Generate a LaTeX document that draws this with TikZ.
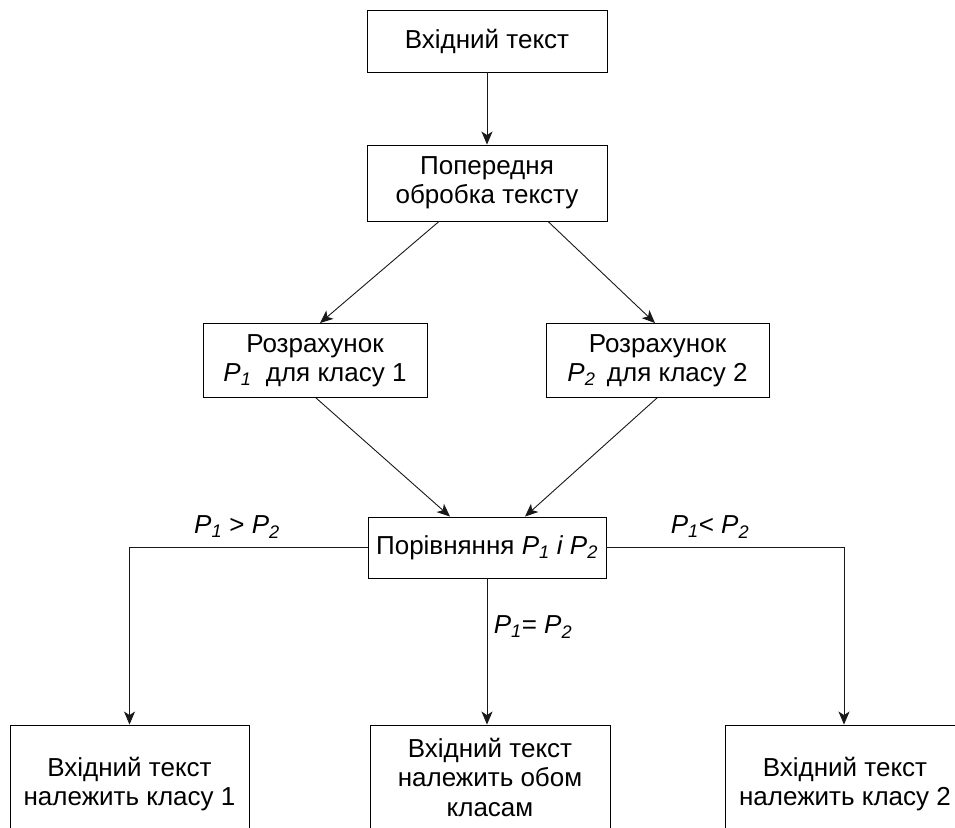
\documentclass[tikz,border=0pt]{standalone}
\usepackage{fontspec}
\setmainfont{Liberation Sans}
\usetikzlibrary{arrows.meta}
\newcommand\PP[1]{\textit{P}\textsubscript{\textit{#1}}}
\begin{document}
\begin{tikzpicture}[x=1pt,y=1pt,
  box/.style={draw=black, line width=0.9pt, align=center, inner sep=0pt,
    font=\fontsize{26}{29.5}\selectfont},
  lbl/.style={font=\fontsize{26}{29.5}\selectfont, inner sep=0pt},
  arr/.style={draw=black!90, line width=0.9pt, -{Stealth[length=13pt,width=11pt,inset=3.5pt]}}]
\useasboundingbox (0,0) rectangle (955,-827);
\clip (0,0) rectangle (955,-827);
\fill[white] (0,0) rectangle (955,-827);
\node[box, minimum width=240pt, minimum height=62pt] (in) at (487,-41) {Вхідний текст};
\node[box, minimum width=240pt, minimum height=76pt] (pre) at (487,-183) {Попередня\\обробка тексту};
\node[box, minimum width=224pt, minimum height=74pt] (c1) at (315,-360.5) {Розрахунок\\\PP{1}\ \ для класу 1};
\node[box, minimum width=223pt, minimum height=74pt] (c2) at (657.5,-360.5) {Розрахунок\\\PP{2}\, для класу 2};
\node[box, minimum width=238pt, minimum height=61pt] (cmp) at (487,-547.5) {Порівняння \textit{P\textsubscript{1} і P\textsubscript{2}}};
\node[box, minimum width=239pt, minimum height=118pt] (o1) at (129.5,-784) {Вхідний текст\\належить класу 1};
\node[box, minimum width=240pt, minimum height=104pt] (o2) at (490,-777) {Вхідний текст\\належить обом\\класам};
\node[box, minimum width=240pt, minimum height=118pt] (o3) at (845,-784) {Вхідний текст\\належить класу 2};
\node[lbl] (l1) at (237,-527) {\PP{1} > \PP{2}};
\node[lbl] (l2) at (710,-527) {\PP{1}< \PP{2}};
\node[lbl] (l3) at (533,-627) {\PP{1}= \PP{2}};
\draw[arr] (in.south) -- (pre.north);
\draw[arr] ([xshift=-48pt]pre.south) -- ([xshift=5pt]c1.north);
\draw[arr] ([xshift=61pt]pre.south) -- ([xshift=-2.5pt]c2.north);
\draw[arr] ([xshift=1pt]c1.south) -- ([xshift=-37pt]cmp.north);
\draw[arr] ([xshift=-0.5pt]c2.south) -- ([xshift=38pt]cmp.north);
\draw[arr] (cmp.west) -| (o1.north);
\draw[arr] (cmp.east) -| ([xshift=-1pt]o3.north);
\draw[arr] (cmp.south) -- (cmp.south |- o2.north);
\end{tikzpicture}
\end{document}
